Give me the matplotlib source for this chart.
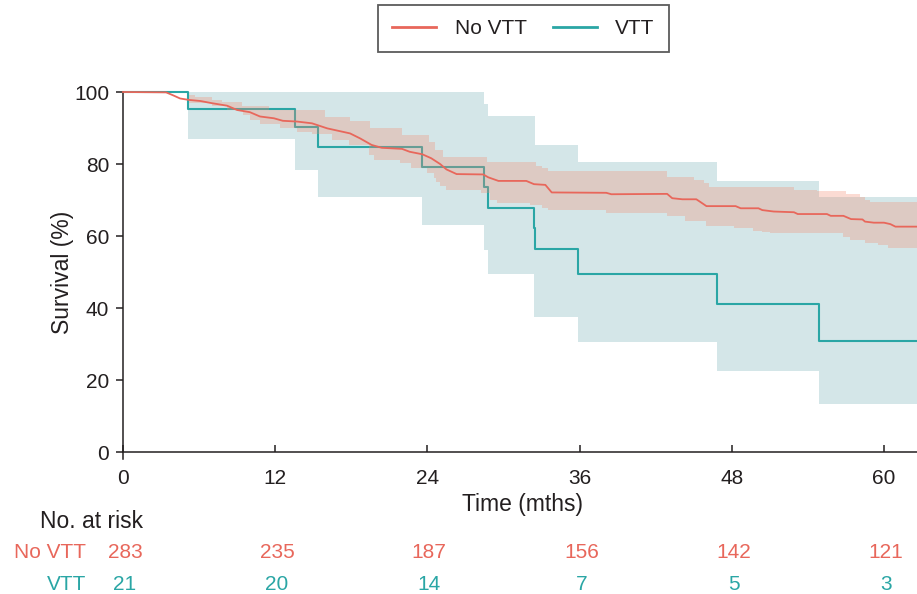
import numpy as np
import matplotlib
matplotlib.use('Agg')
import matplotlib.pyplot as plt
from matplotlib.lines import Line2D
from matplotlib.transforms import blended_transform_factory

plt.rcParams['font.family'] = ['Liberation Sans', 'DejaVu Sans']

# ---------------- data ----------------
XMAX = 62.6

# No VTT Kaplan-Meier curve (months, survival %)
novtt_time = [0, 3.4, 4.0, 4.5, 5.2, 6.1, 7.0, 8.2, 9.0, 10.0, 10.8, 11.9, 12.6, 13.7,
              14.9, 16.1, 17.9, 18.7, 19.6, 20.4, 22.0, 22.6, 23.6, 24.3, 25.0, 25.5,
              26.3, 28.4, 28.8, 29.6, 31.8, 32.4, 33.3, 33.8, 38.1, 38.5,
              42.9, 43.3, 44.1, 45.2, 45.5, 46.0, 48.3, 48.7, 50.1, 50.4, 51.3, 52.9,
              53.2, 55.5, 55.8, 56.8, 57.4, 58.3, 58.5, 59.2, 60.0, 60.5, 60.9, 62.6]
novtt_surv = [100, 99.9, 99.0, 98.2, 97.8, 97.5, 96.9, 96.2, 95.0, 94.4, 93.2, 92.7, 92.0, 91.8,
              91.3, 89.9, 88.5, 87.1, 85.3, 84.5, 84.2, 83.4, 82.7, 81.6, 80.0, 78.5,
              77.2, 77.1, 76.3, 75.3, 75.3, 74.4, 74.2, 72.1, 72.0, 71.6,
              71.7, 70.5, 70.2, 70.2, 69.5, 68.3, 68.3, 67.7, 67.7, 67.2, 66.8, 66.6,
              66.1, 66.1, 65.6, 65.6, 64.7, 64.6, 64.0, 63.7, 63.7, 63.3, 62.6, 62.6]

# No VTT confidence band (step change points)
novtt_upper_time = [0, 5.2, 5.7, 7.0, 7.8, 9.4, 11.5, 15.9, 17.9, 19.5, 22.0, 24.1, 24.6, 25.2,
                    28.7, 32.6, 33.0, 33.5, 42.9, 45.0, 45.8, 46.2, 52.9, 54.7, 57.0, 58.1,
                    58.5, 58.9]
novtt_upper = [100, 99.2, 98.5, 97.8, 97.1, 96.2, 95.0, 93.1, 91.9, 89.9, 88.1, 86.2, 84.0, 82.0,
               80.6, 79.5, 78.8, 78.1, 76.3, 75.6, 74.6, 73.5, 72.8, 72.6, 71.8, 70.8,
               70.0, 69.5]
novtt_lower_time = [0, 5.2, 7.0, 8.2, 9.5, 10.0, 10.8, 12.4, 13.7, 14.9, 16.5, 17.8, 19.4,
                    19.8, 21.8, 22.7, 24.0, 24.5, 24.7, 25.0, 25.5, 28.2, 28.9, 29.5, 32.1,
                    33.0, 33.5, 38.1, 42.9, 44.3, 46.0, 48.2, 49.7, 50.4, 51.0, 56.8, 57.3,
                    58.5, 59.5, 60.3]
novtt_lower = [100, 96.9, 96.0, 95.0, 93.5, 92.2, 91.0, 89.9, 89.0, 88.2, 86.8, 85.3, 82.5,
               81.1, 80.2, 78.8, 77.4, 76.0, 75.1, 74.0, 72.8, 71.9, 70.0, 69.3, 68.5,
               67.7, 67.2, 66.3, 65.6, 64.3, 62.8, 62.1, 61.5, 61.0, 60.7, 59.8, 58.9,
               58.0, 57.5, 56.6]

# VTT Kaplan-Meier curve
vtt_time = [0, 5.1, 13.6, 15.4, 23.6, 28.5, 28.8, 32.4, 32.5, 35.9, 46.8, 54.9]
vtt_surv = [100, 95.2, 90.3, 84.7, 79.1, 73.5, 67.9, 62.1, 56.4, 49.5, 41.2, 30.7]
vtt_lower = [100, 86.9, 78.3, 70.7, 63.1, 56.0, 49.4, 37.6, 37.6, 30.6, 22.5, 13.3]
vtt_upper = [100, 100, 100, 100, 100, 96.7, 93.3, 93.3, 85.3, 80.5, 75.3, 70.7]

# Number at risk
risk_times = [0, 12, 24, 36, 48, 60]
risk_novtt = [283, 235, 187, 156, 142, 121]
risk_vtt = [21, 20, 14, 7, 5, 3]

x_ticks = [0, 12, 24, 36, 48, 60]
y_ticks = [0, 20, 40, 60, 80, 100]

# ---------------- style ----------------
RED = '#e8675b'
TEAL = '#2aa6a5'
BAND_BLUE = '#d4e6e8'
BAND_RED = '#f58a70'
DARK = '#231f20'
FS = 15
FSL = 16.5

W, H = 917, 594
fig = plt.figure(figsize=(W / 100, H / 100), dpi=100)
# axes: x 0 at px 123, XMAX at px 917; y 100 at px 92, y -2 at px 459.2
ax = fig.add_axes([123 / W, 1 - 459.2 / H, (917 - 123) / W, (459.2 - 92) / H])
ax.set_xlim(0, XMAX)
ax.set_ylim(-2, 100)


def step_eval(t_change, vals, grid):
    idx = np.searchsorted(np.asarray(t_change), grid, side='right') - 1
    return np.asarray(vals)[idx]


# VTT band + line
vt = np.array(vtt_time + [XMAX])
ax.fill_between(vt, vtt_lower + [vtt_lower[-1]], vtt_upper + [vtt_upper[-1]],
                step='post', color=BAND_BLUE, lw=0, zorder=1)
ax.step(vt, vtt_surv + [vtt_surv[-1]], where='post', color=TEAL, lw=1.5,
        zorder=2, clip_on=False)

# No VTT band + line
grid = np.unique(np.concatenate([novtt_upper_time, novtt_lower_time, [XMAX]]))
up = step_eval(novtt_upper_time, novtt_upper, grid)
lo = step_eval(novtt_lower_time, novtt_lower, grid)
ax.fill_between(grid, lo, up, step='post', color=BAND_RED, alpha=0.3, lw=0, zorder=3)
ax.plot(novtt_time, novtt_surv, color=RED, lw=1.3, zorder=4, clip_on=False)

# axes styling
for s in ['top', 'right']:
    ax.spines[s].set_visible(False)
ax.spines['bottom'].set_position(('data', 0))
for s in ['left', 'bottom']:
    ax.spines[s].set_color(DARK)
    ax.spines[s].set_linewidth(1.1)
ax.set_xticks(x_ticks)
ax.set_yticks(y_ticks)
ax.tick_params(axis='x', direction='in', length=5, width=1.1, color=DARK,
               labelsize=FS, labelcolor=DARK, pad=12)
ax.tick_params(axis='y', direction='out', length=5, width=1.1, color=DARK,
               labelsize=FS, labelcolor=DARK, pad=5)

fig.text(62 / W, 1 - 272 / H, 'Survival (%)', rotation=90, ha='center', va='center',
         fontsize=FSL, color=DARK)
fig.text(523 / W, 1 - 505 / H, 'Time (mths)', ha='center', va='center',
         fontsize=FSL, color=DARK)

# legend
handles = [Line2D([0], [0], color=RED, lw=2), Line2D([0], [0], color=TEAL, lw=2)]
leg = fig.legend(handles, ['No VTT', 'VTT'], loc='upper center',
                 bbox_to_anchor=(523.5 / W, 1 - 5 / H), ncol=2, frameon=True,
                 fancybox=False, fontsize=FS, handlelength=2.1, handletextpad=0.9,
                 columnspacing=1.25, borderpad=0.68, borderaxespad=0)
leg.get_frame().set_edgecolor('#333333')
leg.get_frame().set_linewidth(1.3)
for t in leg.get_texts():
    t.set_color(DARK)

# number at risk table
tr = blended_transform_factory(ax.transData, fig.transFigure)
fig.text(40 / W, 1 - 521 / H, 'No. at risk', ha='left', va='center', fontsize=FSL, color=DARK)
fig.text(86 / W, 1 - 553 / H, 'No VTT', ha='right', va='center', fontsize=FS, color=RED)
fig.text(86 / W, 1 - 584 / H, 'VTT', ha='right', va='center', fontsize=FS, color=TEAL)
for t, n1, n2 in zip(risk_times, risk_novtt, risk_vtt):
    ax.text(t + 0.15, 1 - 553 / H, str(n1), transform=tr, ha='center', va='center',
            fontsize=FS, color=RED, clip_on=False)
    ax.text(t + 0.15, 1 - 584 / H, str(n2), transform=tr, ha='center', va='center',
            fontsize=FS, color=TEAL, clip_on=False)

fig.savefig('out.png', dpi=100)
